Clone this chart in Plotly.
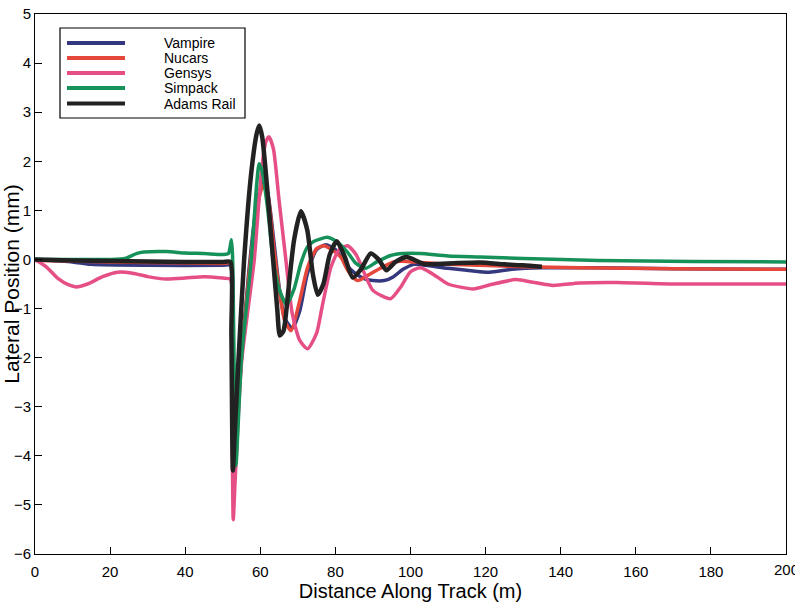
import plotly.graph_objects as go

# Lateral wheelset position along the track for five simulation codes
series_names = ["Vampire", "Nucars", "Gensys", "Simpack", "Adams Rail"]
series_colors = ["#34387f", "#e5473b", "#e64f86", "#17915a", "#222222"]
series_widths = [3.5, 3.5, 3.5, 3.5, 4.5]

vampire_x = [0, 10, 15, 30, 50, 52.0, 52.4, 52.9, 53.5, 55, 57, 59, 60.8, 62, 63.5, 65, 66.5, 68.5,
             70.5, 72.5, 75, 77.5, 80, 82, 84, 86, 88, 90, 93, 95.5, 98, 101, 104, 110, 115, 121,
             127, 135, 150, 170, 200]
vampire_y = [0, -0.05, -0.1, -0.12, -0.12, -0.12, -1.5, -4.2, -3.6, -2.0, -0.2, 1.1, 1.6, 1.35, 0.45,
             -0.55, -1.2, -1.4, -1.05, -0.3, 0.2, 0.3, 0.2, 0.0, -0.2, -0.32, -0.4, -0.43, -0.43,
             -0.35, -0.2, -0.1, -0.12, -0.18, -0.22, -0.26, -0.2, -0.17, -0.17, -0.19, -0.2]

nucars_x = [0, 10, 20, 30, 40, 50, 52.0, 52.4, 52.9, 53.5, 55, 57, 59, 60.7, 62, 63.7, 65, 66.5,
            68.2, 70.3, 72.6, 75, 77, 79, 81.4, 83.5, 85.9, 88.5, 92, 95.5, 99, 102.6, 110, 118.6,
            130, 145, 170, 200]
nucars_y = [-0.02, -0.03, -0.05, -0.06, -0.07, -0.08, -0.08, -1.5, -4.1, -3.6, -2.0, -0.3, 1.0, 1.51,
            1.3, 0.18, -0.6, -1.25, -1.45, -0.9, -0.16, 0.22, 0.28, 0.2, 0.05, -0.25, -0.43, -0.33,
            -0.18, -0.05, -0.04, -0.06, -0.1, -0.12, -0.15, -0.17, -0.19, -0.2]

gensys_x = [0, 3, 6, 9, 11, 14, 18, 22, 26, 30, 35, 40, 45, 50, 52.0, 52.4, 52.8, 53.3, 55, 58.4,
            60.3, 61.5, 62.3, 63.5, 65, 66.8, 68.5, 70.5, 72.6, 75, 76.5, 78.8, 81, 83.2, 85.5, 90,
            94.7, 97.5, 100, 102.6, 106, 110, 116.7, 121, 128, 133, 138, 145, 155, 170, 185, 200]
gensys_y = [0, -0.15, -0.38, -0.52, -0.56, -0.5, -0.35, -0.26, -0.28, -0.35, -0.4, -0.38, -0.35,
            -0.38, -0.4, -2.5, -5.3, -4.5, -2.1, 0, 1.8, 2.4, 2.5, 2.25, 1.2, 0, -1.1, -1.65, -1.82,
            -1.5, -0.95, -0.16, 0.2, 0.28, 0.1, -0.63, -0.8, -0.55, -0.25, -0.17, -0.3, -0.5, -0.6,
            -0.52, -0.41, -0.47, -0.53, -0.48, -0.47, -0.5, -0.5, -0.5]

simpack_x = [0, 10, 20, 24, 27, 29, 35, 40, 45, 50, 51.5, 52.3, 52.6, 53.0, 53.5, 55, 57.6, 59,
             59.7, 60.5, 62, 63.4, 65, 67, 69, 70.8, 72.5, 74.3, 77.9, 80.5, 83.2, 85.5, 88, 91,
             94.7, 98, 102.6, 110, 118.6, 130, 150, 175, 200]
simpack_y = [0, 0, 0, 0.02, 0.12, 0.15, 0.16, 0.13, 0.12, 0.1, 0.12, 0.4, 0.1, -2.0, -4.2, -2.0, 0,
             1.5, 1.95, 1.8, 1.0, 0, -0.6, -0.92, -0.6, -0.08, 0.25, 0.37, 0.45, 0.35, 0.15, -0.08,
             -0.18, -0.05, 0.08, 0.12, 0.12, 0.07, 0.05, 0.02, -0.02, -0.04, -0.05]

adams_x = [0, 10, 20, 30, 40, 50, 52.0, 52.3, 52.7, 53.2, 54.5, 55.7, 57.5, 59.0, 59.7, 60.5, 62,
           63.4, 64.5, 65.2, 66.2, 67.5, 69, 70.8, 72.5, 74, 75.3, 76.8, 78.5, 80.4, 82.5, 84.6,
           86.8, 89.4, 91.5, 93.6, 96, 99, 103.5, 110, 118.6, 125, 130, 135]
adams_y = [0, -0.02, -0.03, -0.04, -0.05, -0.05, -0.05, -1.5, -4.3, -3.5, -1.6, 0, 1.7, 2.55, 2.73,
           2.5, 1.3, 0, -1.0, -1.55, -1.45, -0.6, 0.4, 0.98, 0.6, -0.3, -0.72, -0.5, 0.1, 0.37, 0.05,
           -0.37, -0.2, 0.12, 0.0, -0.22, -0.05, 0.05, -0.09, -0.08, -0.06, -0.1, -0.12, -0.15]

series_x = [vampire_x, nucars_x, gensys_x, simpack_x, adams_x]
series_y = [vampire_y, nucars_y, gensys_y, simpack_y, adams_y]

x_ticks = list(range(0, 201, 20))
y_ticks = list(range(-6, 6))

W, H = 795, 606
M_L, M_R, M_T, M_B = 35, 9, 14, 52
FONT = "Liberation Sans, Arial, sans-serif"
TICK_SIZE = 15

fig = go.Figure()
for name, xs, ys, col, w in zip(series_names, series_x, series_y, series_colors, series_widths):
    fig.add_trace(go.Scatter(x=xs, y=ys, mode="lines", name=name,
                             line=dict(color=col, width=w, shape="spline", smoothing=0.6),
                             showlegend=False))

# Boxed key in the upper-left corner, drawn in paper coordinates
pw, ph = W - M_L - M_R, H - M_T - M_B
def px(xp):
    return (xp - M_L) / pw
def py(yp):
    return (H - M_B - yp) / ph

fig.add_shape(type="rect", xref="paper", yref="paper",
              x0=px(60), x1=px(245), y0=py(118), y1=py(28),
              line=dict(color="black", width=1.2), fillcolor="white", layer="above")
row_y = [43.0, 58.0, 73.0, 88.0, 103.5]
for name, col, ry in zip(series_names, series_colors, row_y):
    fig.add_shape(type="line", xref="paper", yref="paper",
                  x0=px(67), x1=px(125), y0=py(ry), y1=py(ry),
                  line=dict(color=col, width=4), layer="above")
    fig.add_annotation(xref="paper", yref="paper", x=px(163), y=py(ry),
                       text=name, showarrow=False, xanchor="left", yanchor="middle",
                       borderpad=0, font=dict(family=FONT, size=14, color="black"))

axis_common = dict(showgrid=False, zeroline=False, showline=True, linecolor="black",
                   linewidth=1, mirror=True, ticks="inside", ticklen=7, tickcolor="black",
                   automargin=False,
                   tickfont=dict(family=FONT, size=TICK_SIZE, color="black"))
fig.update_xaxes(range=[0, 200], tickvals=x_ticks, ticklabelstandoff=4, **axis_common,
                 title=dict(text="Distance Along Track (m)", standoff=2,
                            font=dict(family=FONT, size=20, color="black")))
fig.update_yaxes(range=[-6, 5], tickvals=y_ticks, **axis_common,
                 title=dict(text="Lateral Position (mm)", standoff=2,
                            font=dict(family=FONT, size=21, color="black")))

# The last distance label sits on the right border and runs off the page edge
fig.add_annotation(x=x_ticks[-1], xref="x", y=0, yref="paper", yanchor="top", yshift=-6,
                   text=str(x_ticks[-1]), showarrow=False, borderpad=0,
                   font=dict(family=FONT, size=TICK_SIZE, color="black"))

fig.update_layout(width=W, height=H, margin=dict(l=M_L, r=M_R, t=M_T, b=M_B),
                  plot_bgcolor="white", paper_bgcolor="white")
fig.write_html("out.html")
